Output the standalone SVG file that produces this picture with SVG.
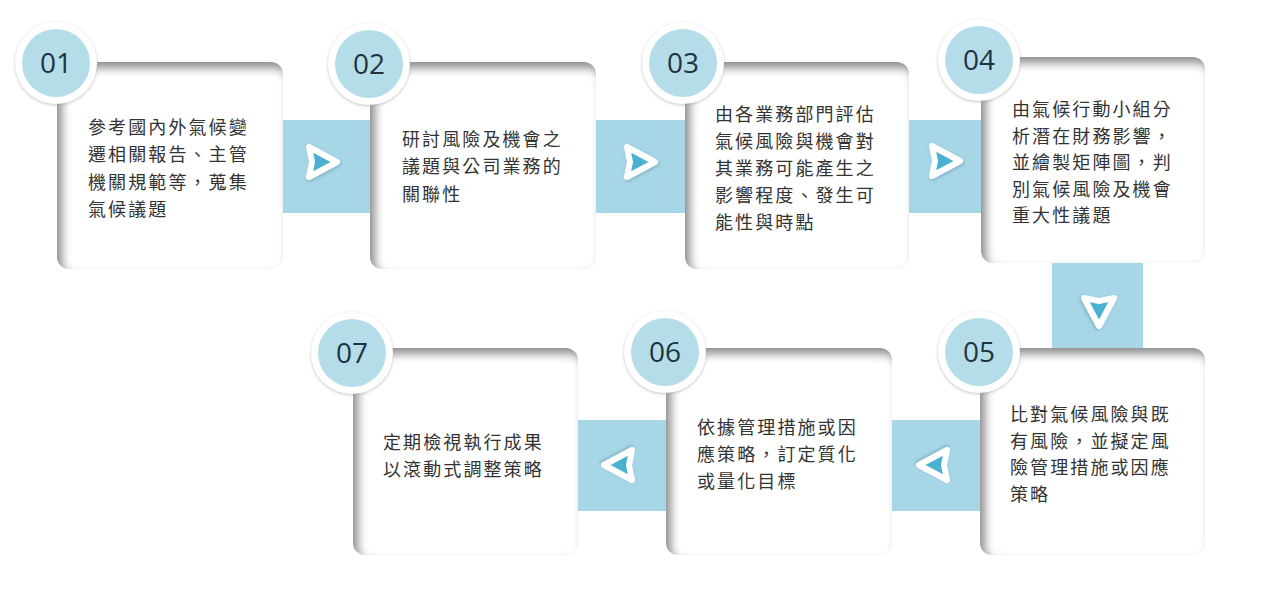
<svg xmlns="http://www.w3.org/2000/svg" width="1278" height="590" viewBox="0 0 1278 590">
<defs>
<style>
.card{fill:#ffffff;filter:url(#inset)}
.conn{fill:#a7d6e6}
.arr{fill:#4bb1d2;stroke:#ffffff;stroke-width:6;stroke-linejoin:round;filter:url(#ashadow)}
.ring{fill:#ffffff;filter:url(#cshadow)}
.disc{fill:#b5dde9}
.num{font-family:"Open Sans","Noto Sans",sans-serif;font-size:28px;fill:#1f3443;text-anchor:middle}
.txt{font-family:"Noto Sans CJK TC","Noto Sans CJK SC",sans-serif;font-size:18px;fill:#333333;letter-spacing:2.1px}
</style>
<filter id="inset" x="-10%" y="-10%" width="120%" height="120%" color-interpolation-filters="sRGB">
<feFlood flood-color="#8c8c8c" result="f"/>
<feComposite in="f" in2="SourceAlpha" operator="out" result="o"/>
<feGaussianBlur in="o" stdDeviation="5" result="b"/>
<feOffset in="b" dx="5" dy="6" result="ob"/>
<feComposite in="ob" in2="SourceAlpha" operator="in" result="s"/>
<feMerge><feMergeNode in="SourceGraphic"/><feMergeNode in="s"/></feMerge>
</filter>
<filter id="cshadow" x="-20%" y="-20%" width="140%" height="140%">
<feDropShadow dx="0" dy="1" stdDeviation="1.5" flood-color="#999999" flood-opacity="0.6"/>
</filter>
<filter id="ashadow" x="-30%" y="-30%" width="160%" height="160%">
<feDropShadow dx="1" dy="1.5" stdDeviation="1.5" flood-color="#4a8aa0" flood-opacity="0.45"/>
</filter>
<path id="arrow" class="arr" d="M15,0 L-13,-15 L-10,0 L-13,15 Z"/>
</defs>
<rect width="1278" height="590" fill="#ffffff"/>

<g id="connectors">
<rect class="conn" x="283" y="120" width="88" height="93"/>
<use href="#arrow" transform="translate(322,162)"/>
<rect class="conn" x="596" y="120" width="90" height="93"/>
<use href="#arrow" transform="translate(640,162)"/>
<rect class="conn" x="908" y="120" width="75" height="93"/>
<use href="#arrow" transform="translate(945,161)"/>
<rect class="conn" x="1052" y="262" width="91" height="88"/>
<use href="#arrow" transform="translate(1099,311) rotate(90)"/>
<rect class="conn" x="890" y="420" width="92" height="91"/>
<use href="#arrow" transform="translate(934,465) rotate(180)"/>
<rect class="conn" x="576" y="420" width="92" height="91"/>
<use href="#arrow" transform="translate(619,465) rotate(180)"/>
</g>

<g id="node01">
<rect class="card" x="57" y="62" width="226" height="207" rx="12"/>
<circle class="ring" cx="56" cy="63" r="41"/>
<circle class="disc" cx="56" cy="63" r="34"/>
<text class="num" x="56" y="73">01</text>
<text class="txt" x="88" y="134">參考國內外氣候變<tspan x="88" dy="27.3">遷相關報告、主管</tspan><tspan x="88" dy="27.3">機關規範等，蒐集</tspan><tspan x="88" dy="27.3">氣候議題</tspan></text>
</g>

<g id="node02">
<rect class="card" x="370" y="62" width="226" height="207" rx="12"/>
<circle class="ring" cx="369" cy="64" r="41"/>
<circle class="disc" cx="369" cy="64" r="34"/>
<text class="num" x="369" y="74">02</text>
<text class="txt" x="402" y="146">研討風險及機會之<tspan x="402" dy="27.3">議題與公司業務的</tspan><tspan x="402" dy="27.3">關聯性</tspan></text>
</g>

<g id="node03">
<rect class="card" x="685" y="62" width="224" height="207" rx="12"/>
<circle class="ring" cx="683" cy="63" r="41"/>
<circle class="disc" cx="683" cy="63" r="34"/>
<text class="num" x="683" y="73">03</text>
<text class="txt" x="715" y="121">由各業務部門評估<tspan x="715" dy="27">氣候風險與機會對</tspan><tspan x="715" dy="27">其業務可能產生之</tspan><tspan x="715" dy="27">影響程度、發生可</tspan><tspan x="715" dy="27">能性與時點</tspan></text>
</g>

<g id="node04">
<rect class="card" x="981" y="57" width="224" height="206" rx="12"/>
<circle class="ring" cx="979" cy="60" r="41"/>
<circle class="disc" cx="979" cy="60" r="34"/>
<text class="num" x="979" y="70">04</text>
<text class="txt" x="1012" y="116">由氣候行動小組分<tspan x="1012" dy="26.6">析潛在財務影響，</tspan><tspan x="1012" dy="26.6">並繪製矩陣圖，判</tspan><tspan x="1012" dy="26.6">別氣候風險及機會</tspan><tspan x="1012" dy="26.6">重大性議題</tspan></text>
</g>

<g id="node05">
<rect class="card" x="980" y="348" width="225" height="207" rx="12"/>
<circle class="ring" cx="979" cy="352" r="41"/>
<circle class="disc" cx="979" cy="352" r="34"/>
<text class="num" x="979" y="362">05</text>
<text class="txt" x="1010" y="421">比對氣候風險與既<tspan x="1010" dy="26.7">有風險，並擬定風</tspan><tspan x="1010" dy="26.7">險管理措施或因應</tspan><tspan x="1010" dy="26.7">策略</tspan></text>
</g>

<g id="node06">
<rect class="card" x="666" y="348" width="226" height="207" rx="12"/>
<circle class="ring" cx="665" cy="352" r="41"/>
<circle class="disc" cx="665" cy="352" r="34"/>
<text class="num" x="665" y="362">06</text>
<text class="txt" x="697" y="434">依據管理措施或因<tspan x="697" dy="27">應策略，訂定質化</tspan><tspan x="697" dy="27">或量化目標</tspan></text>
</g>

<g id="node07">
<rect class="card" x="353" y="348" width="225" height="207" rx="12"/>
<circle class="ring" cx="352" cy="353" r="41"/>
<circle class="disc" cx="352" cy="353" r="34"/>
<text class="num" x="352" y="363">07</text>
<text class="txt" x="383" y="449">定期檢視執行成果<tspan x="383" dy="27">以滾動式調整策略</tspan></text>
</g>
</svg>
